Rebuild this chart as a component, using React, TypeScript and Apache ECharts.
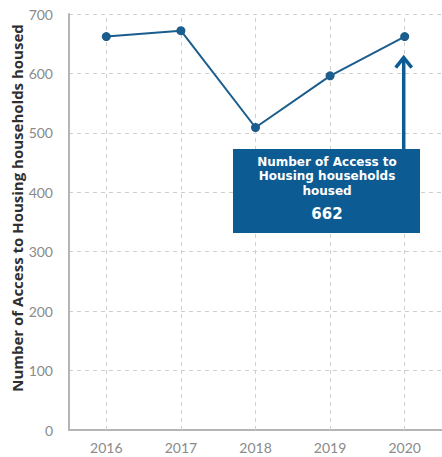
import React, { useEffect, useRef } from "react";
import * as echarts from "echarts";

const years = ["2016", "2017", "2018", "2019", "2020"];
const households = [662, 672, 509, 596, 662];
const yTicks = { min: 0, max: 700, interval: 100 };
const axisTitle = "Number of Access to Housing households housed";
const boxLines = ["Number of Access to", "Housing households", "housed"];
const boxValue = "662";

const BLUE = "#1b5d8c";
const BOX = "#0c5b93";

export default function App() {
  const ref = useRef<HTMLDivElement>(null);
  useEffect(() => {
    if (!ref.current) return;
    const chart = echarts.init(ref.current, null, { renderer: "svg" });
    chart.setOption({
      animation: false,
      grid: { left: 69, right: -4, top: 14, bottom: 27, containLabel: false },
      xAxis: {
        type: "category",
        data: years,
        boundaryGap: true,
        axisLine: { show: true, lineStyle: { color: "#b5b5b5", width: 2 } },
        axisTick: { show: false },
        splitLine: { show: false },
        axisLabel: { color: "#8a8a8a", fontFamily: "Lato", fontSize: 14, margin: 10 },
      },
      yAxis: {
        type: "value",
        min: yTicks.min,
        max: yTicks.max,
        interval: yTicks.interval,
        axisLine: { show: true, lineStyle: { color: "#b5b5b5", width: 2 } },
        axisTick: { show: false },
        splitLine: { show: true, lineStyle: { color: "#cfcfcf", type: [4, 4], width: 1 } },
        axisLabel: { color: "#8a8a8a", fontFamily: "Lato", fontSize: 14, margin: 16 },
      },
      series: [
        {
          type: "line",
          data: households,
          symbol: "circle",
          symbolSize: 9,
          itemStyle: { color: BLUE },
          lineStyle: { color: BLUE, width: 2 },
          z: 3,
          markLine: {
            silent: true,
            symbol: "none",
            label: { show: false },
            lineStyle: { color: "#cfcfcf", type: [4, 4], width: 1 },
            data: years.map((y) => ({ xAxis: y })),
            z: 1,
          },
        },
      ],
    });
    const p = chart.convertToPixel({ seriesIndex: 0 }, [years[4], households[4]]) as number[];
    const ax = p[0] - 1;
    const tipY = p[1] + 21;
    const lineYs = [161.5, 176, 190.5];
    chart.setOption({
      graphic: [
        {
          type: "text",
          x: 17,
          y: 208,
          rotation: Math.PI / 2,
          z: 100,
          style: {
            text: axisTitle,
            fill: "#2f2f2f",
            font: "bold 15px 'Open Sans'",
            align: "center",
            verticalAlign: "middle",
          },
        },
        {
          type: "line",
          z: 100,
          shape: { x1: ax, y1: tipY + 1, x2: ax, y2: 150 },
          style: { stroke: BOX, lineWidth: 3.5 },
        },
        {
          type: "polyline",
          z: 100,
          shape: { points: [[ax - 8, tipY + 10], [ax, tipY], [ax + 8, tipY + 10]] },
          style: { stroke: BOX, lineWidth: 3.5, fill: null },
        },
        {
          type: "rect",
          z: 100,
          shape: { x: 233, y: 149, width: 187, height: 84 },
          style: { fill: BOX },
        },
        ...boxLines.map((t, i) => ({
          type: "text",
          z: 101,
          x: 327,
          y: lineYs[i],
          style: {
            text: t,
            fill: "#ffffff",
            font: "bold 12px 'DejaVu Sans'",
            align: "center",
            verticalAlign: "middle",
          },
        })),
        {
          type: "text",
          z: 101,
          x: 327,
          y: 214,
          style: {
            text: boxValue,
            fill: "#ffffff",
            font: "bold 15px 'DejaVu Sans'",
            align: "center",
            verticalAlign: "middle",
          },
        },
      ],
    });
    return () => chart.dispose();
  }, []);
  return <div ref={ref} style={{ width: 442, height: 457, position: "absolute", left: 0, top: 0 }} />;
}
